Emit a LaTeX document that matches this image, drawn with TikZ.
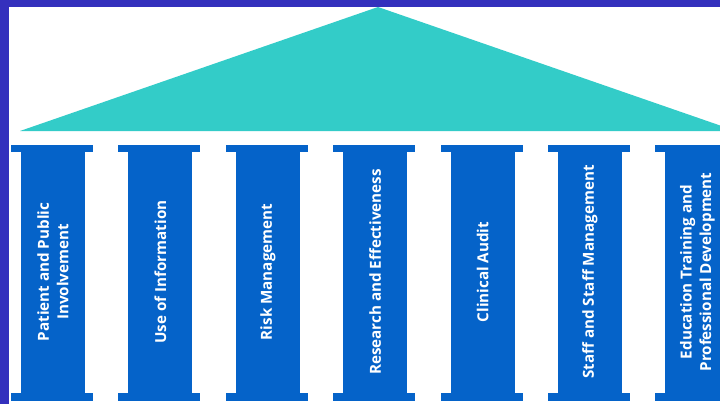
\documentclass[tikz,border=0pt]{standalone}
\usepackage{fontspec}
\setmainfont{Open Sans}
\definecolor{frame}{HTML}{3430BD}
\definecolor{roof}{HTML}{33CCC8}
\definecolor{pillar}{HTML}{0563C9}
\begin{document}
\begin{tikzpicture}[x=1pt,y=-1pt,
  shaft/.style={fill=pillar, draw=none, rotate=90, minimum width=242pt, minimum height=64pt,
    inner sep=0pt, text=white, font=\fontsize{15.2}{19.5}\selectfont\bfseries, align=center},
  slab/.style={fill=pillar, draw=none}]
\useasboundingbox (0,0) rectangle (720,404);
\clip (0,0) rectangle (720,404);
\fill[white] (0,0) rectangle (720,404);
\fill[frame] (0,0) rectangle (9,404);
\fill[frame] (0,0) rectangle (720,7);
\fill[roof] (20,131) -- (378,7) -- (736,131) -- cycle;
\foreach \i/\t in {0/{Patient and Public\\Involvement},1/{Use of Information},2/{Risk Management},
  3/{Research and Effectiveness},4/{Clinical Audit},5/{Staff and Staff Management},
  6/{Education Training and\\Professional Development}} {
  \pgfmathsetmacro{\c}{53+107.4*\i}
  \fill[slab] (\c-42,145) rectangle (\c+40,151.5);
  \fill[slab] (\c-42,393) rectangle (\c+40,401);
  \node[shaft] (p\i) at (\c,272) {\t};
}
\end{tikzpicture}
\end{document}
